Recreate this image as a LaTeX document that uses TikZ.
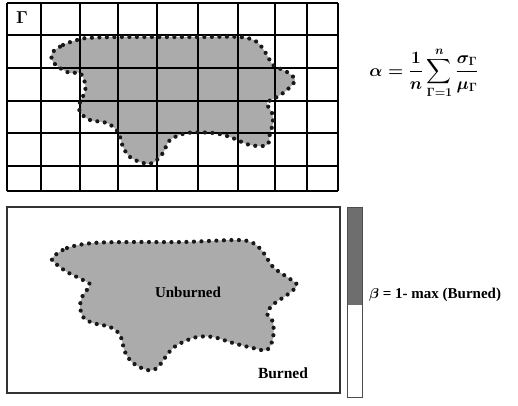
\documentclass[tikz,border=0pt]{standalone}
\usepackage{exscale}
\usepackage{fontspec}
\setmainfont{Liberation Serif}
\begin{document}
\begin{tikzpicture}[x=1pt,y=-1pt,
  blobfill/.style={fill=black!33},
  dotline/.style={draw=black!90,line width=4.2pt,line cap=round,dash pattern=on 0pt off 7.5pt},
  gridline/.style={draw=black,line width=1.8pt},
  lbl/.style={font={\boldmath\bfseries\fontsize{15}{17}\selectfont},inner sep=0pt}]
\useasboundingbox (0,0) rectangle (518,405);
% top blob
\path[blobfill] plot[smooth cycle,tension=0.55] coordinates {
 (52,53) (63,45) (77,40) (87,38) (117,37) (157,37) (200,37) (240,37) (257,42) (267,55) (273,65) (287,72) (295,80) (287,90) (277,97) (267,103) (272,113) (273,123) (270,133) (267,145) (250,145) (230,137) (213,133) (187,133) (170,140) (163,153) (153,163) (143,163) (130,157) (123,147) (118,132) (107,123) (90,120) (80,112) (80,102) (85,92) (85,83) (80,73) (70,73) (60,68) (53,62)};
% grid
\foreach \x in {7,41,80,118,157,198,238,275,307,338} \draw[gridline] (\x,3) -- (\x,191);
\foreach \y in {3,35,68,101,133,166,191} \draw[gridline] (7,\y) -- (338,\y);
\path[dotline] plot[smooth cycle,tension=0.55] coordinates {
 (52,53) (63,45) (77,40) (87,38) (117,37) (157,37) (200,37) (240,37) (257,42) (267,55) (273,65) (287,72) (295,80) (287,90) (277,97) (267,103) (272,113) (273,123) (270,133) (267,145) (250,145) (230,137) (213,133) (187,133) (170,140) (163,153) (153,163) (143,163) (130,157) (123,147) (118,132) (107,123) (90,120) (80,112) (80,102) (85,92) (85,83) (80,73) (70,73) (60,68) (53,62)};
\node[lbl,font={\boldmath\fontsize{18}{20}\selectfont}] (gamma) at (22,18) {$\Gamma$};
% formula
\node[lbl,font={\boldmath\fontsize{17}{19}\selectfont}] (alpha) at (424,73) {$\displaystyle \alpha=\frac{1}{n}\sum_{\Gamma=1}^{n}\frac{\sigma_{\Gamma}}{\mu_{\Gamma}}$};
% bottom frame
\draw[draw=black!80,line width=1.3pt] (7,207) rectangle (340,393);
\path[blobfill] plot[smooth cycle,tension=0.55] coordinates {
 (52,258) (67,248) (93,243) (133,242) (183,242) (237,240) (253,243) (263,252) (273,267) (287,277) (297,285) (287,295) (275,303) (267,313) (273,322) (273,338) (267,350) (253,348) (233,343) (213,337) (197,337) (183,342) (173,348) (167,355) (157,368) (147,370) (133,363) (125,352) (120,335) (110,327) (93,323) (83,317) (80,305) (83,295) (90,285) (83,280) (67,272) (55,263)};
\path[dotline] plot[smooth cycle,tension=0.55] coordinates {
 (52,258) (67,248) (93,243) (133,242) (183,242) (237,240) (253,243) (263,252) (273,267) (287,277) (297,285) (287,295) (275,303) (267,313) (273,322) (273,338) (267,350) (253,348) (233,343) (213,337) (197,337) (183,342) (173,348) (167,355) (157,368) (147,370) (133,363) (125,352) (120,335) (110,327) (93,323) (83,317) (80,305) (83,295) (90,285) (83,280) (67,272) (55,263)};
\node[lbl] (unb) at (188,292) {Unburned};
\node[lbl,font={\bfseries\fontsize{15.5}{17}\selectfont}] (burn) at (283,373) {Burned};
% colour bar
\fill[black!57] (347,207) rectangle (362,305);
\draw[black!70,line width=0.8pt] (347,207) rectangle (362,397);
\node[lbl,anchor=west] (beta) at (369,295) {$\beta$ = 1- max (Burned)};
\end{tikzpicture}
\end{document}
